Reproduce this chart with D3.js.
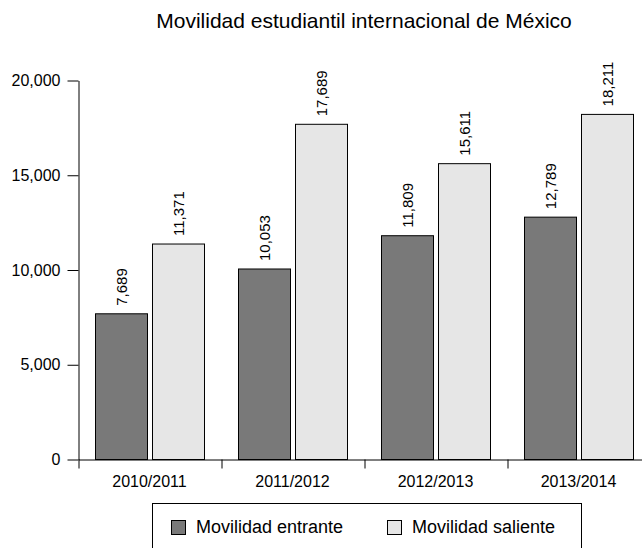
<!DOCTYPE html>
<html>
<head>
<meta charset="utf-8">
<script src="https://cdn.jsdelivr.net/npm/d3@7"></script>
<style>
  body { margin: 0; background: #fff; }
  svg { display: block; font-family: "Liberation Sans", Arial, Helvetica, sans-serif; }
</style>
</head>
<body>
<div id="chart"></div>
<script>
// data
const periods = ['2010/2011', '2011/2012', '2012/2013', '2013/2014'];
const series = ['Movilidad entrante', 'Movilidad saliente'];
const entrante = [7689, 10053, 11809, 12789];
const saliente = [11371, 17689, 15611, 18211];
const yTicks = [0, 5000, 10000, 15000, 20000];
const title = 'Movilidad estudiantil internacional de México';
const colors = ['#797979', '#e6e6e6'];

const width = 642;
const height = 548;

const rows = periods.map((p, i) => ({ period: p, values: [entrante[i], saliente[i]] }));

const svg = d3.select('#chart')
  .append('svg')
  .attr('width', width)
  .attr('height', height);

const x = d3.scaleBand()
  .domain(periods)
  .range([78, 650]);

const xSub = d3.scaleBand()
  .domain(series)
  .range([0, x.bandwidth()])
  .paddingInner(5 / 57)
  .paddingOuter(17 / 57);

const y = d3.scaleLinear()
  .domain([0, 20000])
  .range([459.5, 80.5]);

// title
svg.append('text')
  .attr('x', (x.range()[0] + x.range()[1]) / 2)
  .attr('y', 28)
  .attr('text-anchor', 'middle')
  .style('font-size', '21px')
  .text(title);

// bars
const groups = svg.append('g')
  .selectAll('g')
  .data(rows)
  .join('g')
  .attr('transform', d => `translate(${x(d.period)},0)`);

groups.selectAll('rect')
  .data(d => d.values.map((v, j) => ({ key: series[j], value: v, j })))
  .join('rect')
  .attr('x', d => Math.round(xSub(d.key)) + 0.5)
  .attr('y', d => y(d.value))
  .attr('width', Math.round(xSub.bandwidth()))
  .attr('height', d => y(0) - y(d.value))
  .attr('fill', d => colors[d.j])
  .attr('stroke', '#000')
  .attr('stroke-width', 1);

// value labels
groups.selectAll('text')
  .data(d => d.values.map((v, j) => ({ key: series[j], value: v })))
  .join('text')
  .attr('transform', d => `translate(${Math.round(xSub(d.key)) + xSub.bandwidth() / 2 + 0.5},${y(d.value) - 8}) rotate(-90)`)
  .attr('dy', '0.35em')
  .style('font-size', '15px')
  .text(d => d3.format(',')(d.value));

// y axis
const yAxis = svg.append('g')
  .attr('transform', 'translate(78.5,0)')
  .call(d3.axisLeft(y).tickValues(yTicks).tickFormat(d3.format(',')).tickSize(11).tickSizeOuter(0).tickPadding(7));
yAxis.selectAll('text').style('font-size', '16px').attr('fill', '#000');
yAxis.selectAll('line, path').attr('stroke', '#000');

// x axis: ticks at group boundaries, labels under group centres
const xEdge = d3.scaleLinear().domain([0, periods.length]).range(x.range());
const xAxis = svg.append('g')
  .attr('transform', `translate(0.5,${y(0)})`)
  .call(d3.axisBottom(xEdge).ticks(periods.length).tickFormat('').tickSize(9).tickSizeOuter(0));
xAxis.selectAll('line, path').attr('stroke', '#000');

svg.append('g')
  .selectAll('text')
  .data(periods)
  .join('text')
  .attr('x', d => x(d) + x.bandwidth() / 2)
  .attr('y', 487)
  .attr('text-anchor', 'middle')
  .style('font-size', '16px')
  .text(d => d);

// legend
const legend = svg.append('g');
legend.append('rect')
  .attr('x', 152.5)
  .attr('y', 503.5)
  .attr('width', 429)
  .attr('height', 80)
  .attr('fill', 'none')
  .attr('stroke', '#000');

const legendX = [171, 387];
const items = legend.selectAll('g.item')
  .data(series)
  .join('g')
  .attr('class', 'item')
  .attr('transform', (d, i) => `translate(${legendX[i]},520)`);

items.append('rect')
  .attr('x', 0.5)
  .attr('y', 0.5)
  .attr('width', 14)
  .attr('height', 14)
  .attr('fill', (d, i) => colors[i])
  .attr('stroke', '#000');

items.append('text')
  .attr('x', 25)
  .attr('y', 13)
  .style('font-size', '18px')
  .text(d => d);
</script>
</body>
</html>
